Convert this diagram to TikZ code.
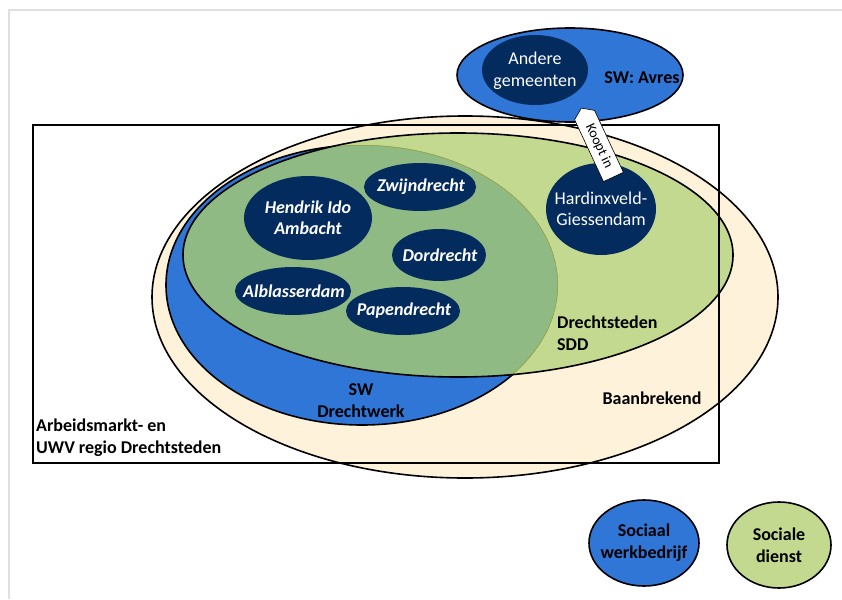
\documentclass[tikz,border=0pt]{standalone}
\usepackage{fontspec}
\setmainfont{Carlito}
\usepackage{tikz}
\usetikzlibrary{shapes.symbols}

\definecolor{cream}{HTML}{FFF2DA}
\definecolor{sddgreen}{HTML}{C3D98F}
\definecolor{mixgreen}{HTML}{8FBA84}
\definecolor{swblue}{HTML}{2F76D6}
\definecolor{navy}{HTML}{032B5E}

\begin{document}
\begin{tikzpicture}[x=1pt, y=-1pt,
    rand/.style={line width=1.6pt},
    opschrift/.style={inner sep=0pt, align=center, font=\fontsize{18}{22}\selectfont\bfseries},
    gemeente/.style={opschrift, text=white, font=\fontsize{18}{21}\selectfont\bfseries\itshape},
    kooptag/.style={signal, signal to=west, signal pointer angle=110, draw, fill=white,
        line width=0.6pt, inner sep=3pt, minimum height=22, minimum width=76,
        font=\fontsize{14}{16}\selectfont}]
    \useasboundingbox (0,0) rectangle (842,599);
    \draw[black!12, line width=1.2pt] (9,599) -- (9,10) -- (842,10);

    \coordinate (BB) at (465,297);
    \coordinate (DW) at (362,285);
    \coordinate (SDD) at (458,255);
    \coordinate (AV) at (570,75);
    \coordinate (R1) at (33,125);
    \coordinate (R2) at (719,463);

    \filldraw[rand, fill=cream] (BB) ellipse [x radius=313, y radius=181];
    \filldraw[rand, fill=swblue] (DW) ellipse [x radius=196, y radius=140];
    \fill[sddgreen] (SDD) ellipse [x radius=275, y radius=122];
    \begin{scope}
        \clip (DW) ellipse [x radius=196, y radius=140];
        \fill[mixgreen] (SDD) ellipse [x radius=275, y radius=122];
        \clip (SDD) ellipse [x radius=275, y radius=122];
        \draw[color=olive!60!mixgreen, line width=1pt] (DW) ellipse [x radius=196, y radius=140];
    \end{scope}
    \draw[rand] (SDD) ellipse [x radius=275, y radius=122];
    \draw[line width=1.4pt] (R1) rectangle (R2);

    \fill[navy] (308,218) ellipse [x radius=64, y radius=42];
    \fill[navy] (420,187) ellipse [x radius=56, y radius=24];
    \fill[navy] (439,255) ellipse [x radius=47, y radius=26];
    \fill[navy] (293,291) ellipse [x radius=58, y radius=24];
    \fill[navy] (403,311) ellipse [x radius=57, y radius=24];
    \fill[navy] (601,209) ellipse [x radius=55, y radius=46];

    \node[gemeente] (hia) at (308,218) {Hendrik Ido\\Ambacht};
    \node[gemeente] (zwijn) at (421,187) {Zwijndrecht};
    \node[gemeente] (dord) at (440,255) {Dordrecht};
    \node[gemeente] (albl) at (294,291) {Alblasserdam};
    \node[gemeente] (papen) at (404,311) {Papendrecht};
    \node[gemeente, font=\fontsize{18}{21}\selectfont] (hg) at (601,209) {Hardinxveld-\\Giessendam};

    \node[opschrift] (dwtxt) at (361,401) {SW\\Drechtwerk};
    \node[opschrift, align=left, anchor=west] (sddtxt) at (557,333) {Drechtsteden\\SDD};
    \node[opschrift] (bbtxt) at (652,398) {Baanbrekend};
    \node[opschrift, align=left, anchor=west] (uwv) at (36,438) {Arbeidsmarkt- en\\UWV regio Drechtsteden};

    \filldraw[rand, fill=swblue] (AV) ellipse [x radius=113, y radius=47];
    \fill[navy] (535,70) ellipse [x radius=53, y radius=35];
    \node[opschrift, text=white, font=\fontsize{18}{22}\selectfont] (andere) at (535,71) {Andere\\gemeenten};
    \node[opschrift] (avres) at (642,78) {SW: Avres};

    \node[kooptag, rotate=-65] (koopt) at (599,146) {Koopt in};

    \filldraw[rand, fill=swblue] (644,543) ellipse [x radius=55, y radius=43];
    \filldraw[rand, fill=sddgreen] (779,545) ellipse [x radius=52, y radius=43];
    \node[opschrift] (swleg) at (644,543) {Sociaal\\werkbedrijf};
    \node[opschrift] (sdleg) at (779,545) {Sociale\\dienst};
\end{tikzpicture}
\end{document}
